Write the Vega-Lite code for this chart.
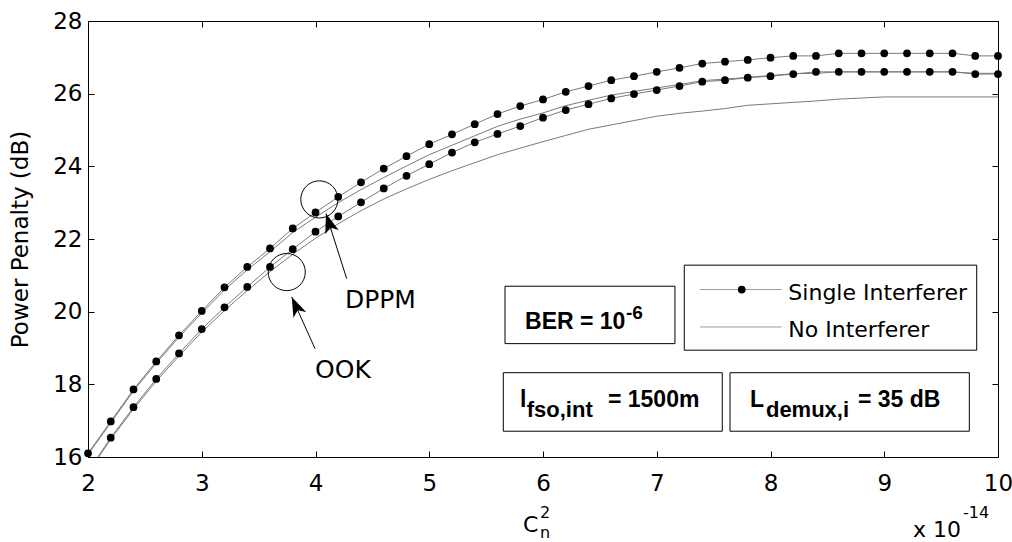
{
  "$schema": "https://vega.github.io/schema/vega-lite/v6.json",
  "width": 910,
  "height": 436,
  "autosize": {"type": "none"},
  "padding": {"left": 88, "top": 21, "right": 14, "bottom": 85},
  "background": "white",
  "config": {
    "view": {"stroke": "black", "strokeWidth": 1},
    "font": "DejaVu Sans",
    "axis": {"grid": false, "domainColor": "black", "tickColor": "black", "labelColor": "black", "titleColor": "black", "labelFont": "DejaVu Sans", "titleFont": "DejaVu Sans"}
  },
  "datasets": {
    "pp": [
      {"x": 2.0, "dppm_single": 16.10, "dppm_none": 16.07, "ook_single": 15.60, "ook_none": 15.56},
      {"x": 2.2, "dppm_single": 16.98, "dppm_none": 16.94, "ook_single": 16.53, "ook_none": 16.49},
      {"x": 2.4, "dppm_single": 17.86, "dppm_none": 17.82, "ook_single": 17.37, "ook_none": 17.32},
      {"x": 2.6, "dppm_single": 18.63, "dppm_none": 18.58, "ook_single": 18.15, "ook_none": 18.09},
      {"x": 2.8, "dppm_single": 19.35, "dppm_none": 19.30, "ook_single": 18.85, "ook_none": 18.78},
      {"x": 3.0, "dppm_single": 20.02, "dppm_none": 19.96, "ook_single": 19.52, "ook_none": 19.44},
      {"x": 3.2, "dppm_single": 20.67, "dppm_none": 20.60, "ook_single": 20.12, "ook_none": 20.03},
      {"x": 3.4, "dppm_single": 21.23, "dppm_none": 21.15, "ook_single": 20.68, "ook_none": 20.58},
      {"x": 3.6, "dppm_single": 21.74, "dppm_none": 21.65, "ook_single": 21.23, "ook_none": 21.10},
      {"x": 3.8, "dppm_single": 22.29, "dppm_none": 22.18, "ook_single": 21.72, "ook_none": 21.58},
      {"x": 4.0, "dppm_single": 22.73, "dppm_none": 22.60, "ook_single": 22.20, "ook_none": 22.02},
      {"x": 4.2, "dppm_single": 23.16, "dppm_none": 23.00, "ook_single": 22.62, "ook_none": 22.42},
      {"x": 4.4, "dppm_single": 23.56, "dppm_none": 23.36, "ook_single": 23.01, "ook_none": 22.78},
      {"x": 4.6, "dppm_single": 23.94, "dppm_none": 23.69, "ook_single": 23.39, "ook_none": 23.10},
      {"x": 4.8, "dppm_single": 24.28, "dppm_none": 24.01, "ook_single": 23.74, "ook_none": 23.38},
      {"x": 5.0, "dppm_single": 24.61, "dppm_none": 24.32, "ook_single": 24.06, "ook_none": 23.64},
      {"x": 5.2, "dppm_single": 24.88, "dppm_none": 24.58, "ook_single": 24.38, "ook_none": 23.88},
      {"x": 5.4, "dppm_single": 25.16, "dppm_none": 24.84, "ook_single": 24.66, "ook_none": 24.10},
      {"x": 5.6, "dppm_single": 25.44, "dppm_none": 25.10, "ook_single": 24.89, "ook_none": 24.32},
      {"x": 5.8, "dppm_single": 25.66, "dppm_none": 25.30, "ook_single": 25.11, "ook_none": 24.50},
      {"x": 6.0, "dppm_single": 25.84, "dppm_none": 25.47, "ook_single": 25.34, "ook_none": 24.68},
      {"x": 6.2, "dppm_single": 26.05, "dppm_none": 25.67, "ook_single": 25.55, "ook_none": 24.85},
      {"x": 6.4, "dppm_single": 26.21, "dppm_none": 25.82, "ook_single": 25.71, "ook_none": 25.02},
      {"x": 6.6, "dppm_single": 26.37, "dppm_none": 25.96, "ook_single": 25.87, "ook_none": 25.14},
      {"x": 6.8, "dppm_single": 26.48, "dppm_none": 26.06, "ook_single": 25.99, "ook_none": 25.26},
      {"x": 7.0, "dppm_single": 26.60, "dppm_none": 26.16, "ook_single": 26.10, "ook_none": 25.38},
      {"x": 7.2, "dppm_single": 26.71, "dppm_none": 26.25, "ook_single": 26.21, "ook_none": 25.46},
      {"x": 7.4, "dppm_single": 26.83, "dppm_none": 26.36, "ook_single": 26.33, "ook_none": 25.52},
      {"x": 7.6, "dppm_single": 26.88, "dppm_none": 26.40, "ook_single": 26.37, "ook_none": 25.59},
      {"x": 7.8, "dppm_single": 26.93, "dppm_none": 26.45, "ook_single": 26.44, "ook_none": 25.68},
      {"x": 8.0, "dppm_single": 26.99, "dppm_none": 26.50, "ook_single": 26.48, "ook_none": 25.72},
      {"x": 8.2, "dppm_single": 27.04, "dppm_none": 26.55, "ook_single": 26.54, "ook_none": 25.76},
      {"x": 8.4, "dppm_single": 27.04, "dppm_none": 26.56, "ook_single": 26.60, "ook_none": 25.80},
      {"x": 8.6, "dppm_single": 27.11, "dppm_none": 26.60, "ook_single": 26.60, "ook_none": 25.85},
      {"x": 8.8, "dppm_single": 27.11, "dppm_none": 26.60, "ook_single": 26.60, "ook_none": 25.88},
      {"x": 9.0, "dppm_single": 27.11, "dppm_none": 26.60, "ook_single": 26.60, "ook_none": 25.91},
      {"x": 9.2, "dppm_single": 27.11, "dppm_none": 26.60, "ook_single": 26.60, "ook_none": 25.91},
      {"x": 9.4, "dppm_single": 27.11, "dppm_none": 26.60, "ook_single": 26.60, "ook_none": 25.91},
      {"x": 9.6, "dppm_single": 27.11, "dppm_none": 26.60, "ook_single": 26.60, "ook_none": 25.91},
      {"x": 9.8, "dppm_single": 27.04, "dppm_none": 26.56, "ook_single": 26.54, "ook_none": 25.91},
      {"x": 10.0, "dppm_single": 27.04, "dppm_none": 26.56, "ook_single": 26.54, "ook_none": 25.91}
    ]
  },
  "resolve": {"axis": {"x": "independent", "y": "independent"}},
  "layer": [
    {
      "data": {"name": "pp"},
      "transform": [{"fold": ["dppm_single", "dppm_none", "ook_single", "ook_none"], "as": ["series", "pp"]}],
      "mark": {"type": "line", "color": "#7a7a7a", "strokeWidth": 1, "clip": true},
      "encoding": {
        "x": {"field": "x", "type": "quantitative", "scale": {"domain": [2, 10], "nice": false, "zero": false},
          "axis": {"orient": "bottom", "values": [2, 3, 4, 5, 6, 7, 8, 9, 10], "format": "d", "title": null, "tickSize": -6, "labelPadding": 21, "labelFontSize": 23, "labelFlush": false, "labelOverlap": false, "labelBound": false}},
        "y": {"field": "pp", "type": "quantitative", "scale": {"domain": [16, 28], "nice": false, "zero": false},
          "axis": {"orient": "left", "values": [16, 18, 20, 22, 24, 26, 28], "format": "d", "title": "Power Penalty (dB)", "titleFontSize": 23, "titleFontWeight": "normal", "titlePadding": 20, "tickSize": -6, "labelPadding": 12, "labelFontSize": 23, "labelFlush": false, "labelOverlap": false, "labelBound": false}},
        "detail": {"field": "series"}
      }
    },
    {
      "data": {"name": "pp"},
      "transform": [
        {"fold": ["dppm_single", "ook_single"], "as": ["series", "pp"]},
        {"filter": "datum.pp >= 16"}
      ],
      "mark": {"type": "point", "shape": "circle", "filled": true, "color": "black", "opacity": 1, "size": 60},
      "encoding": {
        "x": {"field": "x", "type": "quantitative", "scale": {"domain": [2, 10], "nice": false, "zero": false}, "axis": null},
        "y": {"field": "pp", "type": "quantitative", "scale": {"domain": [16, 28], "nice": false, "zero": false}, "axis": null}
      }
    },
    {
      "data": {"values": [{"x": 4.034, "y": 23.09}, {"x": 3.747, "y": 21.09}]},
      "mark": {"type": "point", "shape": "circle", "filled": false, "stroke": "black", "strokeWidth": 1, "opacity": 1, "size": 1380},
      "encoding": {
        "x": {"field": "x", "type": "quantitative", "scale": {"domain": [2, 10], "nice": false, "zero": false},
          "axis": {"orient": "top", "values": [2, 3, 4, 5, 6, 7, 8, 9, 10], "labels": false, "domain": false, "title": null, "tickSize": -6}},
        "y": {"field": "y", "type": "quantitative", "scale": {"domain": [16, 28], "nice": false, "zero": false},
          "axis": {"orient": "right", "values": [16, 18, 20, 22, 24, 26, 28], "labels": false, "domain": false, "title": null, "tickSize": -6}}
      }
    },
    {
      "data": {"values": [{"x": 4.274, "y": 20.91, "x2": 4.092, "y2": 22.70}, {"x": 3.996, "y": 18.98, "x2": 3.791, "y2": 20.405}]},
      "mark": {"type": "rule", "color": "black", "strokeWidth": 1},
      "encoding": {
        "x": {"field": "x", "type": "quantitative", "scale": {"domain": [2, 10], "nice": false, "zero": false}, "axis": null},
        "y": {"field": "y", "type": "quantitative", "scale": {"domain": [16, 28], "nice": false, "zero": false}, "axis": null},
        "x2": {"field": "x2"},
        "y2": {"field": "y2"}
      }
    },
    {
      "data": {"values": [{"x": 4.092, "y": 22.70}]},
      "mark": {"type": "point", "shape": "M0,0 L0.5,1.4 L0,1.05 L-0.5,1.4 Z", "filled": true, "color": "black", "opacity": 1, "size": 784, "angle": -17.7},
      "encoding": {
        "x": {"field": "x", "type": "quantitative", "scale": {"domain": [2, 10], "nice": false, "zero": false}, "axis": null},
        "y": {"field": "y", "type": "quantitative", "scale": {"domain": [16, 28], "nice": false, "zero": false}, "axis": null}
      }
    },
    {
      "data": {"values": [{"x": 3.791, "y": 20.405}]},
      "mark": {"type": "point", "shape": "M0,0 L0.5,1.4 L0,1.05 L-0.5,1.4 Z", "filled": true, "color": "black", "opacity": 1, "size": 784, "angle": -24.3},
      "encoding": {
        "x": {"field": "x", "type": "quantitative", "scale": {"domain": [2, 10], "nice": false, "zero": false}, "axis": null},
        "y": {"field": "y", "type": "quantitative", "scale": {"domain": [16, 28], "nice": false, "zero": false}, "axis": null}
      }
    },
    {
      "data": {"values": [
        {"x": 5.666, "x2": 7.16, "y": 20.70, "y2": 19.12},
        {"x": 7.242, "x2": 9.813, "y": 21.28, "y2": 18.94},
        {"x": 5.651, "x2": 7.576, "y": 18.32, "y2": 16.71},
        {"x": 7.644, "x2": 9.748, "y": 18.32, "y2": 16.71}
      ]},
      "mark": {"type": "rect", "fill": "white", "stroke": "black", "strokeWidth": 1},
      "encoding": {
        "x": {"field": "x", "type": "quantitative", "scale": {"domain": [2, 10], "nice": false, "zero": false}, "axis": null},
        "y": {"field": "y", "type": "quantitative", "scale": {"domain": [16, 28], "nice": false, "zero": false}, "axis": null},
        "x2": {"field": "x2"},
        "y2": {"field": "y2"}
      }
    },
    {
      "data": {"values": [{"x": 7.38, "x2": 8.098, "y": 20.609}, {"x": 7.38, "x2": 8.098, "y": 19.579}]},
      "mark": {"type": "rule", "color": "#9a9a9a", "strokeWidth": 1},
      "encoding": {
        "x": {"field": "x", "type": "quantitative", "scale": {"domain": [2, 10], "nice": false, "zero": false}, "axis": null},
        "y": {"field": "y", "type": "quantitative", "scale": {"domain": [16, 28], "nice": false, "zero": false}, "axis": null},
        "x2": {"field": "x2"}
      }
    },
    {
      "data": {"values": [{"x": 7.747, "y": 20.609}]},
      "mark": {"type": "point", "shape": "circle", "filled": true, "color": "black", "opacity": 1, "size": 60},
      "encoding": {
        "x": {"field": "x", "type": "quantitative", "scale": {"domain": [2, 10], "nice": false, "zero": false}, "axis": null},
        "y": {"field": "y", "type": "quantitative", "scale": {"domain": [16, 28], "nice": false, "zero": false}, "axis": null}
      }
    },
    {
      "data": {"values": [
        {"x": 5.842, "y": 19.535, "t": "BER = 10"},
        {"x": 5.798, "y": 17.375, "t": "l"},
        {"x": 6.571, "y": 17.375, "t": "= 1500m"},
        {"x": 7.82, "y": 17.375, "t": "L"},
        {"x": 8.769, "y": 17.375, "t": "= 35 dB"}
      ]},
      "mark": {"type": "text", "align": "left", "baseline": "alphabetic", "fontSize": 23, "fontWeight": "bold", "color": "black", "font": "Liberation Sans"},
      "encoding": {
        "x": {"field": "x", "type": "quantitative", "scale": {"domain": [2, 10], "nice": false, "zero": false}, "axis": null},
        "y": {"field": "y", "type": "quantitative", "scale": {"domain": [16, 28], "nice": false, "zero": false}, "axis": null},
        "text": {"field": "t"}
      }
    },
    {
      "data": {"values": [
        {"x": 5.857, "y": 17.10, "t": "fso,int"},
        {"x": 7.96, "y": 17.10, "t": "demux,i"}
      ]},
      "mark": {"type": "text", "align": "left", "baseline": "alphabetic", "fontSize": 22, "fontWeight": "bold", "color": "black", "font": "Liberation Sans"},
      "encoding": {
        "x": {"field": "x", "type": "quantitative", "scale": {"domain": [2, 10], "nice": false, "zero": false}, "axis": null},
        "y": {"field": "y", "type": "quantitative", "scale": {"domain": [16, 28], "nice": false, "zero": false}, "axis": null},
        "text": {"field": "t"}
      }
    },
    {
      "data": {"values": [{"x": 6.73, "y": 19.81, "t": "-6"}]},
      "mark": {"type": "text", "align": "left", "baseline": "alphabetic", "fontSize": 19, "fontWeight": "bold", "color": "black", "font": "Liberation Sans"},
      "encoding": {
        "x": {"field": "x", "type": "quantitative", "scale": {"domain": [2, 10], "nice": false, "zero": false}, "axis": null},
        "y": {"field": "y", "type": "quantitative", "scale": {"domain": [16, 28], "nice": false, "zero": false}, "axis": null},
        "text": {"field": "t"}
      }
    },
    {
      "data": {"values": [
        {"x": 4.259, "y": 20.113, "t": "DPPM"},
        {"x": 3.996, "y": 18.174, "t": "OOK"}
      ]},
      "mark": {"type": "text", "align": "left", "baseline": "alphabetic", "fontSize": 25, "color": "black", "font": "DejaVu Sans"},
      "encoding": {
        "x": {"field": "x", "type": "quantitative", "scale": {"domain": [2, 10], "nice": false, "zero": false}, "axis": null},
        "y": {"field": "y", "type": "quantitative", "scale": {"domain": [16, 28], "nice": false, "zero": false}, "axis": null},
        "text": {"field": "t"}
      }
    },
    {
      "data": {"values": [
        {"x": 8.157, "y": 20.333, "t": "Single Interferer"},
        {"x": 8.157, "y": 19.29, "t": "No Interferer"},
        {"x": 5.824, "y": 13.93, "t": "C"},
        {"x": 9.253, "y": 13.79, "t": "x 10"}
      ]},
      "mark": {"type": "text", "align": "left", "baseline": "alphabetic", "fontSize": 22, "color": "black", "font": "DejaVu Sans"},
      "encoding": {
        "x": {"field": "x", "type": "quantitative", "scale": {"domain": [2, 10], "nice": false, "zero": false}, "axis": null},
        "y": {"field": "y", "type": "quantitative", "scale": {"domain": [16, 28], "nice": false, "zero": false}, "axis": null},
        "text": {"field": "t"}
      }
    },
    {
      "data": {"values": [
        {"x": 5.974, "y": 14.31, "t": "2"},
        {"x": 5.974, "y": 13.76, "t": "n"},
        {"x": 9.692, "y": 14.31, "t": "-14"}
      ]},
      "mark": {"type": "text", "align": "left", "baseline": "alphabetic", "fontSize": 16, "color": "black", "font": "DejaVu Sans"},
      "encoding": {
        "x": {"field": "x", "type": "quantitative", "scale": {"domain": [2, 10], "nice": false, "zero": false}, "axis": null},
        "y": {"field": "y", "type": "quantitative", "scale": {"domain": [16, 28], "nice": false, "zero": false}, "axis": null},
        "text": {"field": "t"}
      }
    }
  ]
}
